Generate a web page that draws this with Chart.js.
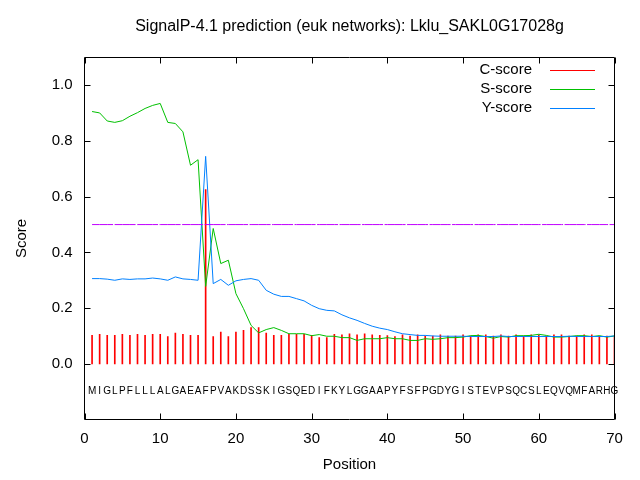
<!DOCTYPE html>
<html>
<head>
<meta charset="utf-8">
<script src="https://cdn.jsdelivr.net/npm/chart.js@4.4.1/dist/chart.umd.min.js"></script>
<style>
  body { margin: 0; background: #fff; }
</style>
</head>
<body>
<canvas id="chart" width="640" height="480"></canvas>
<script>
const TITLE = "SignalP-4.1 prediction (euk networks): Lklu_SAKL0G17028g";
const SEQUENCE = "MIGLPFLLLALGAEAFPVAKDSSKIGSQEDIFKYLGGAAPYFSFPGDYGISTEVPSQCSLEQVQMFARHG".split("");
const POSITIONS = SEQUENCE.map((_, i) => i + 1);

const C_SCORE = [
  0.102, 0.106, 0.102, 0.102, 0.106, 0.102, 0.106, 0.102, 0.106, 0.106,
  0.098, 0.110, 0.106, 0.102, 0.102, 0.626, 0.098, 0.114, 0.098, 0.114,
  0.120, 0.130, 0.130, 0.110, 0.102, 0.102, 0.106, 0.106, 0.106, 0.102,
  0.094, 0.094, 0.106, 0.104, 0.108, 0.104, 0.108, 0.104, 0.102, 0.101,
  0.098, 0.104, 0.100, 0.104, 0.100, 0.100, 0.104, 0.100, 0.100, 0.104,
  0.100, 0.104, 0.104, 0.100, 0.104, 0.100, 0.104, 0.100, 0.104, 0.104,
  0.100, 0.104, 0.104, 0.100, 0.100, 0.104, 0.104, 0.100, 0.100, 0.100
];
const S_SCORE = [
  0.906, 0.901, 0.872, 0.867, 0.873, 0.889, 0.902, 0.917, 0.928, 0.935,
  0.867, 0.863, 0.833, 0.713, 0.733, 0.278, 0.486, 0.360, 0.372, 0.252,
  0.198, 0.138, 0.111, 0.123, 0.130, 0.120, 0.108, 0.108, 0.108, 0.101,
  0.105, 0.099, 0.099, 0.094, 0.094, 0.084, 0.090, 0.090, 0.090, 0.094,
  0.090, 0.090, 0.084, 0.084, 0.090, 0.088, 0.090, 0.094, 0.094, 0.096,
  0.101, 0.102, 0.098, 0.092, 0.098, 0.096, 0.101, 0.101, 0.102, 0.106,
  0.102, 0.096, 0.096, 0.098, 0.101, 0.101, 0.098, 0.101, 0.096, 0.100
];
const Y_SCORE = [
  0.306, 0.306, 0.304, 0.300, 0.305, 0.303, 0.305, 0.305, 0.308, 0.305,
  0.300, 0.312, 0.305, 0.303, 0.300, 0.745, 0.288, 0.303, 0.282, 0.298,
  0.303, 0.306, 0.300, 0.264, 0.250, 0.242, 0.242, 0.234, 0.226, 0.210,
  0.198, 0.192, 0.190, 0.176, 0.165, 0.156, 0.145, 0.135, 0.128, 0.123,
  0.115, 0.108, 0.105, 0.102, 0.102, 0.100, 0.099, 0.099, 0.099, 0.099,
  0.098, 0.098, 0.098, 0.098, 0.100, 0.098, 0.098, 0.098, 0.098, 0.098,
  0.098, 0.098, 0.098, 0.099, 0.098, 0.098, 0.098, 0.098, 0.098, 0.100
];
const CUTOFF = 0.5;
const SEQUENCE_LEVEL = -0.1;
const X_TICKS = [0, 10, 20, 30, 40, 50, 60, 70];
const Y_TICKS = [0.0, 0.2, 0.4, 0.6, 0.8, 1.0];

const FONT = '"Liberation Sans", Arial, sans-serif';

function points(values) {
  return values.map((v, i) => ({ x: POSITIONS[i], y: v }));
}

// frame, inward ticks, residue letters, legend and title (gnuplot look)
const decorations = {
  id: "decorations",
  afterDraw(chart) {
    const ctx = chart.ctx;
    const a = chart.chartArea;
    const xs = chart.scales.x, ys = chart.scales.y;
    ctx.save();
    ctx.globalAlpha = 1;
    ctx.globalCompositeOperation = "source-over";
    ctx.setLineDash([]);
    ctx.strokeStyle = "#000000";
    ctx.lineWidth = 1;
    ctx.beginPath();
    ctx.rect(a.left, a.top, a.right - a.left, a.bottom - a.top);
    X_TICKS.forEach(v => {
      const px = Math.round(xs.getPixelForValue(v)) + 0.5;
      ctx.moveTo(px, a.bottom); ctx.lineTo(px, a.bottom - 6);
      ctx.moveTo(px, a.top); ctx.lineTo(px, a.top + 6);
    });
    Y_TICKS.forEach(v => {
      const py = Math.round(ys.getPixelForValue(v)) + 0.5;
      ctx.moveTo(a.left, py); ctx.lineTo(a.left + 6, py);
      ctx.moveTo(a.right, py); ctx.lineTo(a.right - 6, py);
    });
    ctx.stroke();

    // residues
    ctx.fillStyle = "#000000";
    ctx.font = "10px " + FONT;
    ctx.textAlign = "center";
    ctx.textBaseline = "middle";
    const ly = ys.getPixelForValue(SEQUENCE_LEVEL);
    SEQUENCE.forEach((aa, i) => {
      ctx.fillText(aa, xs.getPixelForValue(POSITIONS[i]), ly);
    });

    // legend
    ctx.font = "15px " + FONT;
    ctx.textAlign = "right";
    chart.data.datasets.filter(d => d.inLegend).forEach((d, i) => {
      const y = 70 + i * 19;
      ctx.fillStyle = "#000000";
      ctx.fillText(d.label, 532, y);
      ctx.strokeStyle = d.borderColor;
      ctx.beginPath();
      ctx.moveTo(550, Math.round(y) + 0.5);
      ctx.lineTo(595, Math.round(y) + 0.5);
      ctx.stroke();
    });

    // title
    ctx.fillStyle = "#000000";
    ctx.textAlign = "center";
    ctx.font = "16px " + FONT;
    ctx.fillText(TITLE, (a.left + a.right) / 2, 27);
    ctx.restore();
  }
};

new Chart(document.getElementById("chart"), {
  type: "line",
  data: {
    datasets: [
      {
        type: "bar",
        label: "C-score",
        inLegend: true,
        data: points(C_SCORE),
        backgroundColor: "#ff0000",
        borderColor: "#ff0000",
        barThickness: 1,
        order: 3
      },
      {
        label: "S-score",
        inLegend: true,
        data: points(S_SCORE),
        borderColor: "#00c000",
        borderWidth: 1,
        pointRadius: 0,
        tension: 0,
        order: 2
      },
      {
        label: "Y-score",
        inLegend: true,
        data: points(Y_SCORE),
        borderColor: "#0080ff",
        borderWidth: 1,
        pointRadius: 0,
        tension: 0,
        order: 1
      },
      {
        label: "cutoff",
        inLegend: false,
        data: POSITIONS.map(p => ({ x: p, y: CUTOFF })),
        borderColor: "#c000ff",
        borderWidth: 1,
        borderDash: [21, 1.5],
        pointRadius: 0,
        order: 0
      }
    ]
  },
  options: {
    responsive: false,
    animation: false,
    devicePixelRatio: 1,
    layout: { padding: { left: 0, right: 25.5, top: 57.5, bottom: 0 } },
    plugins: {
      legend: { display: false },
      tooltip: { enabled: false },
      title: { display: false }
    },
    scales: {
      x: {
        type: "linear",
        offset: false,
        min: 0,
        max: 70,
        afterFit: s => { s.height = 60.5; },
        afterBuildTicks: s => { s.ticks = X_TICKS.map(v => ({ value: v })); },
        grid: { display: false, drawTicks: false, offset: false },
        border: { display: false },
        ticks: { color: "#000", padding: 10, font: { family: FONT, size: 15 } },
        title: {
          display: true,
          text: "Position",
          color: "#000",
          font: { family: FONT, size: 15 },
          padding: { top: 0, bottom: 6 }
        }
      },
      y: {
        min: -0.2,
        max: 1.1,
        afterFit: s => { s.width = 84.5; },
        afterBuildTicks: s => { s.ticks = Y_TICKS.map(v => ({ value: v })); },
        grid: { display: false, drawTicks: false },
        border: { display: false },
        ticks: {
          color: "#000",
          padding: 12,
          font: { family: FONT, size: 15 },
          callback: v => v.toFixed(1)
        },
        title: {
          display: true,
          text: "Score",
          color: "#000",
          font: { family: FONT, size: 15 },
          padding: { top: 13, bottom: 0 }
        }
      }
    }
  },
  plugins: [decorations]
});
</script>
</body>
</html>
